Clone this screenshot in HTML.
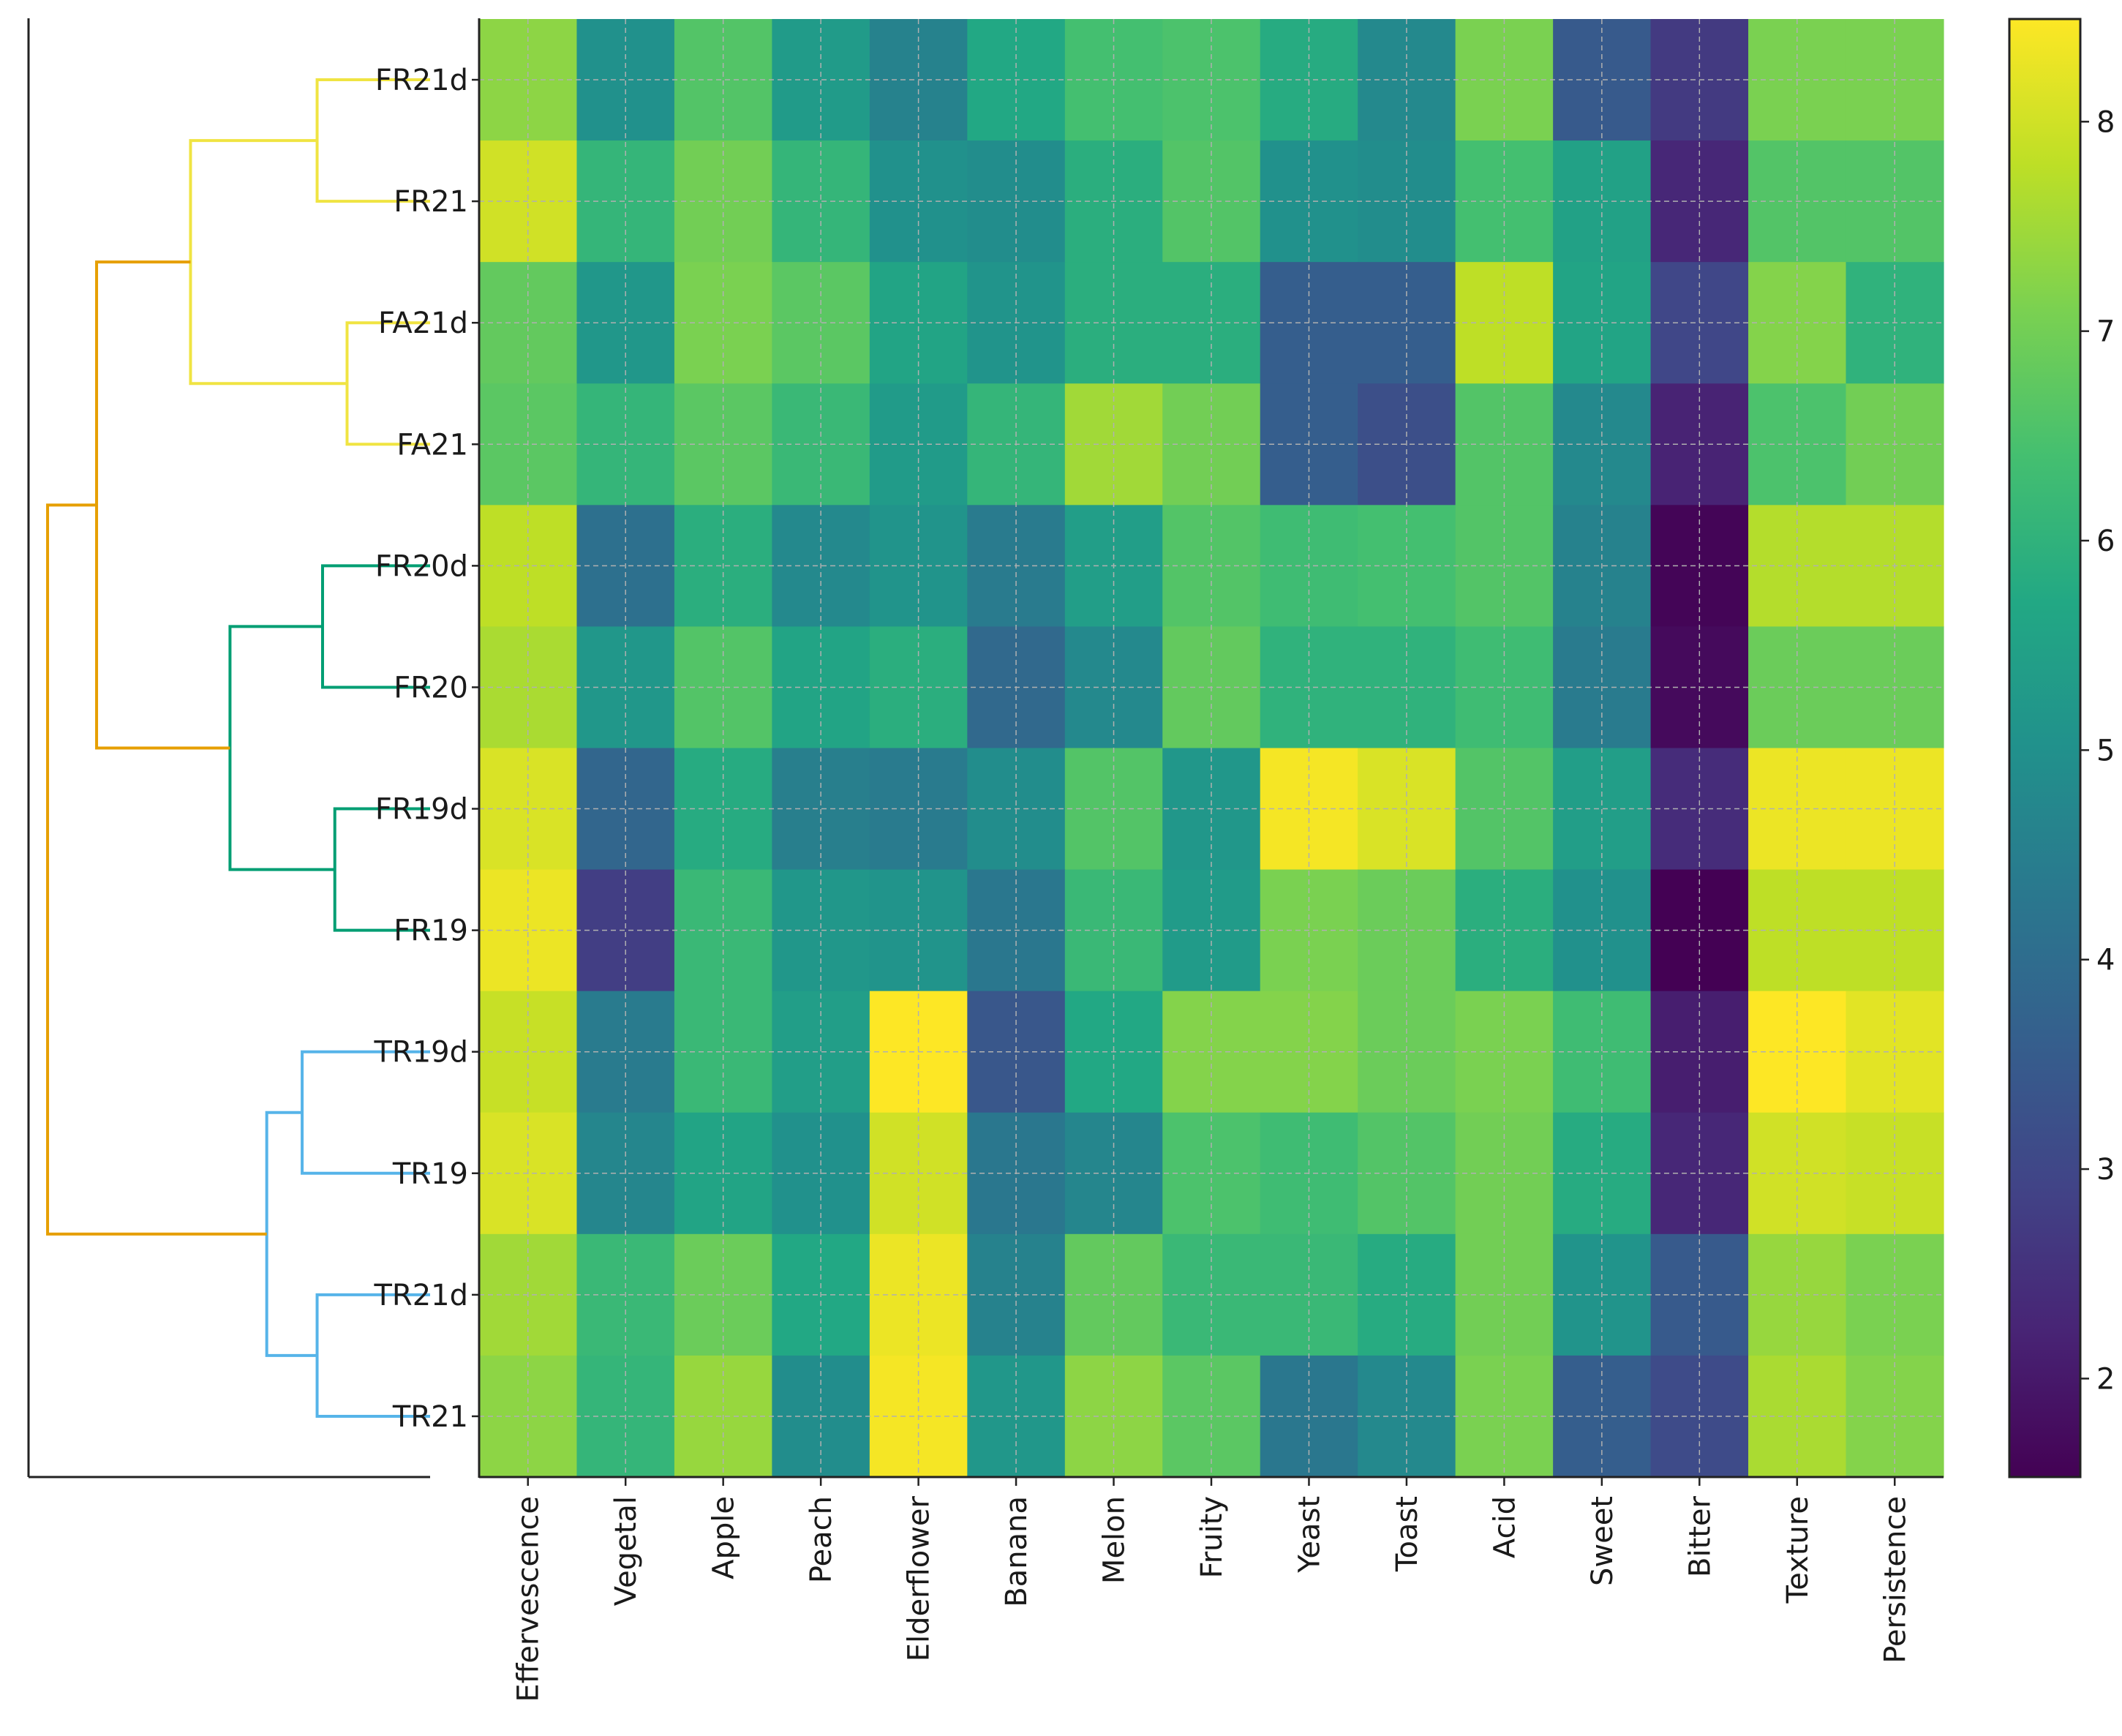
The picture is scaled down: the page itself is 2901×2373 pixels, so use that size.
<!DOCTYPE html>
<html><head><meta charset="utf-8">
<style>html,body{margin:0;padding:0;background:#fff}svg{display:block}text{font-family:"DejaVu Sans","Liberation Sans",sans-serif;fill:#1a1a1a}</style>
</head><body>
<svg id="chart" width="2901" height="2373" viewBox="0 0 2901 2373" xmlns="http://www.w3.org/2000/svg">
<defs>
<linearGradient id="vir" x1="0" y1="1" x2="0" y2="0">
<stop offset="0" stop-color="#440154"/><stop offset="0.1" stop-color="#482475"/><stop offset="0.2" stop-color="#414487"/><stop offset="0.3" stop-color="#355f8d"/><stop offset="0.4" stop-color="#2a788e"/><stop offset="0.5" stop-color="#21918c"/><stop offset="0.6" stop-color="#22a884"/><stop offset="0.7" stop-color="#44bf70"/><stop offset="0.8" stop-color="#7ad151"/><stop offset="0.9" stop-color="#bddf26"/><stop offset="1" stop-color="#fde725"/>
</linearGradient>
</defs>
<g id="dendro"></g>
<g id="heat"></g>
<g id="cbar"></g>
</svg>
<script>
const rows = ["FR21d","FR21","FA21d","FA21","FR20d","FR20","FR19d","FR19","TR19d","TR19","TR21d","TR21"];
const cols = ["Effervescence","Vegetal","Apple","Peach","Elderflower","Banana","Melon","Fruity","Yeast","Toast","Acid","Sweet","Bitter","Texture","Persistence"];
const valFR21d = [7.3,5.0,6.6,5.3,4.6,5.7,6.4,6.5,5.8,4.8,7.1,3.5,2.7,7.1,7.1];
const valFR21  = [8.0,6.1,7.0,6.1,5.0,4.9,5.9,6.6,5.0,4.9,6.4,5.5,2.3,6.6,6.6];
const valFA21d = [6.8,5.2,7.1,6.7,5.6,5.1,5.9,5.9,3.6,3.6,7.8,5.6,3.0,7.2,6.0];
const valFA21  = [6.7,6.1,6.7,6.2,5.3,6.1,7.5,7.0,3.6,3.2,6.6,4.8,2.2,6.5,7.0];
const valFR20d = [7.8,4.1,5.9,4.8,5.1,4.4,5.4,6.6,6.3,6.4,6.6,4.6,1.6,7.7,7.7];
const valFR20  = [7.6,5.2,6.6,5.6,5.9,3.9,4.8,6.8,6.0,6.0,6.3,4.4,1.7,6.9,6.9];
const valFR19d = [8.1,3.8,5.8,4.5,4.4,4.9,6.6,5.2,8.4,8.1,6.6,5.4,2.4,8.3,8.3];
const valFR19  = [8.3,2.8,6.2,5.2,5.1,4.3,6.2,5.3,7.1,6.9,5.9,5.0,1.5,7.8,7.8];
const valTR19d = [7.9,4.4,6.2,5.4,8.5,3.4,5.7,7.2,7.2,6.9,7.1,6.3,2.1,8.5,8.2];
const valTR19  = [8.1,4.7,5.6,5.0,8.0,4.3,4.7,6.5,6.3,6.6,7.0,5.8,2.3,8.0,7.9];
const valTR21d = [7.5,6.2,6.9,5.7,8.3,4.6,6.8,6.2,6.2,5.8,7.0,5.1,3.5,7.4,7.1];
const valTR21  = [7.3,6.1,7.4,4.9,8.4,5.2,7.3,6.7,4.3,4.8,7.1,3.6,3.1,7.6,7.2];
const cbTicks = [2,3,4,5,6,7,8];
const linkLeft   = ["FR21d","FA21d","Y1","FR20d","FR19d","G1","Y","TR19d","TR21d","B1","O"];
const linkRight  = ["FR21","FA21","Y2","FR20","FR19","G2","G","TR19","TR21","B2","B"];
const linkName   = ["Y1","Y2","Y","G1","G2","G","O","B1","B2","B","ROOT"];
const linkHeight = [83,61,176,79,70,147,245,94,83,120,281];
const linkColor  = ["#F0E442","#F0E442","#F0E442","#009E73","#009E73","#009E73","#E69F00","#56B4E9","#56B4E9","#56B4E9","#E69F00"];

const NS="http://www.w3.org/2000/svg";
function mk(tag,attrs,parent){const e=document.createElementNS(NS,tag);for(const k in attrs)e.setAttribute(k,attrs[k]);parent.appendChild(e);return e;}
const values=[valFR21d,valFR21,valFA21d,valFA21,valFR20d,valFR20,valFR19d,valFR19,valTR19d,valTR19,valTR21d,valTR21];
const HX0=655,HX1=2657,HY0=26,HY1=2019;
const cw=(HX1-HX0)/cols.length, rh=(HY1-HY0)/rows.length;
const vmin=1.53,vmax=8.49;
const stops=["#440154","#482475","#414487","#355f8d","#2a788e","#21918c","#22a884","#44bf70","#7ad151","#bddf26","#fde725"].map(h=>[parseInt(h.slice(1,3),16),parseInt(h.slice(3,5),16),parseInt(h.slice(5,7),16)]);
function vir(v){let t=Math.max(0,Math.min(1,(v-vmin)/(vmax-vmin)))*10;const i=Math.min(9,Math.floor(t)),f=t-i;const a=stops[i],b=stops[i+1];return `rgb(${a.map((c,k)=>Math.round(c+(b[k]-c)*f)).join(",")})`;}
const xS=j=>HX0+cw*j, yS=i=>HY0+rh*i;
const heat=document.getElementById('heat');
for(let i=0;i<rows.length;i++)for(let j=0;j<cols.length;j++){
  const r=mk('rect',{x:xS(j),y:yS(i),width:cw+0.6,height:rh+0.6,fill:vir(values[i][j])},heat);
  
  
}
for(let j=0;j<cols.length;j++){const x=xS(j)+cw/2;mk('line',{x1:x,y1:HY0,x2:x,y2:HY1,stroke:"#b0b0b0","stroke-width":1.5,"stroke-dasharray":"7 5"},heat);
  mk('line',{x1:x,y1:HY1,x2:x,y2:HY1+12,stroke:"#222","stroke-width":2.5},heat);
  const t=mk('text',{x:0,y:0,"font-size":40,"text-anchor":"end",transform:`translate(${x+14},${HY1+26}) rotate(-90)`},heat);t.textContent=cols[j];
  
  }
for(let i=0;i<rows.length;i++){const y=yS(i)+rh/2;mk('line',{x1:HX0,y1:y,x2:HX1,y2:y,stroke:"#b0b0b0","stroke-width":1.5,"stroke-dasharray":"7 5"},heat);
  mk('line',{x1:HX0-10,y1:y,x2:HX0,y2:y,stroke:"#222","stroke-width":2.5},heat);}
mk('line',{x1:HX0,y1:HY0-1,x2:HX0,y2:HY1+1,stroke:"#222","stroke-width":3},heat);
mk('line',{x1:HX0,y1:HY1,x2:HX1,y2:HY1,stroke:"#222","stroke-width":3},heat);

const dg=document.getElementById('dendro');
const DX0=588, DXM=39, HMAX=295;
const hx=h=>DX0-(DX0-DXM)*h/HMAX;
const pos={};
rows.forEach((r,i)=>pos[r]={y:yS(i)+rh/2,h:0});
for(let k=0;k<linkName.length;k++){
  const a=pos[linkLeft[k]],b=pos[linkRight[k]],h=linkHeight[k],x=hx(h);
  const p=mk('path',{d:`M${hx(a.h)},${a.y}H${x}V${b.y}H${hx(b.h)}`,fill:"none",stroke:linkColor[k],"stroke-width":4},dg);
  
  
  pos[linkName[k]]={y:(a.y+b.y)/2,h:h};
}
mk('line',{x1:DXM,y1:HY0-1,x2:DXM,y2:HY1,stroke:"#222","stroke-width":3},dg);
mk('line',{x1:DXM,y1:HY1,x2:DX0,y2:HY1,stroke:"#222","stroke-width":3},dg);
rows.forEach((r,i)=>{const t=mk('text',{x:640,y:yS(i)+rh/2+14,"font-size":40,"text-anchor":"end"},dg);t.textContent=r;
  
  });

const cb=document.getElementById('cbar');
const CX0=2747,CX1=2844;
mk('rect',{x:CX0,y:HY0,width:CX1-CX0,height:HY1-HY0,fill:"url(#vir)",stroke:"#222","stroke-width":3},cb);
const cy=v=>HY1-(v-vmin)/(vmax-vmin)*(HY1-HY0);
cbTicks.forEach(v=>{const y=cy(v);mk('line',{x1:CX1,y1:y,x2:CX1+12,y2:y,stroke:"#222","stroke-width":2.5},cb);
  const t=mk('text',{x:CX1+22,y:y+14,"font-size":40},cb);t.textContent=v;
  
  });
</script>
</body></html>
